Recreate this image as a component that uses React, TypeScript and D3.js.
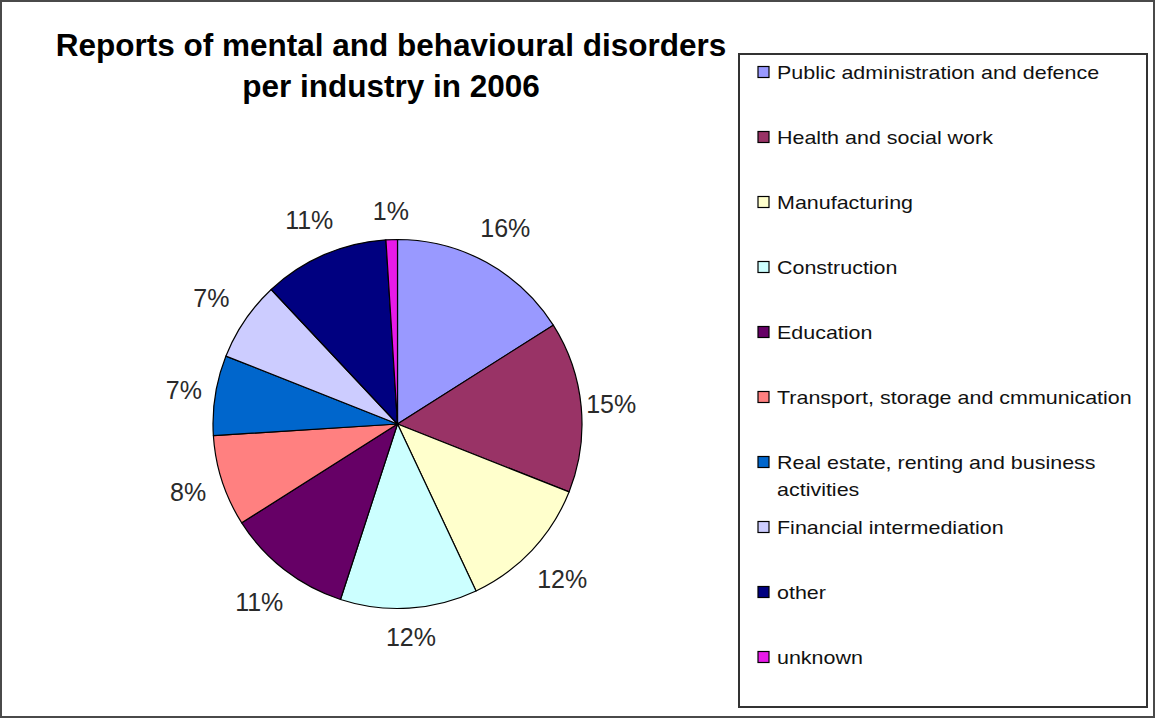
import React, { useEffect, useRef } from 'react';
import * as d3 from 'd3';

const categories = [
  'Public administration and defence',
  'Health and social work',
  'Manufacturing',
  'Construction',
  'Education',
  'Transport, storage and cmmunication',
  'Real estate, renting and business activities',
  'Financial intermediation',
  'other',
  'unknown',
];
const shares = [16, 15, 12, 12, 11, 8, 7, 7, 11, 1];
const colors = [
  '#9999ff', '#993366', '#ffffcc', '#ccffff', '#660066',
  '#ff8080', '#0066cc', '#ccccff', '#000080', '#e81ae8',
];
const titleLines = ['Reports of mental and behavioural disorders', 'per industry in 2006'];

const W = 1156;
const H = 719;
const FONT = '"Liberation Sans", Arial, sans-serif';

export default function App() {
  const svgRef = useRef<SVGSVGElement>(null);

  useEffect(() => {
    if (!svgRef.current) return;
    const svg = d3.select(svgRef.current);
    svg.selectAll('*').remove();

    // outer frame
    svg.append('rect')
      .attr('x', 1).attr('y', 1)
      .attr('width', W - 3).attr('height', H - 3)
      .attr('fill', '#fff')
      .attr('stroke', '#4a4a4a')
      .attr('stroke-width', 2);

    // title
    svg.append('g')
      .selectAll('text')
      .data(titleLines)
      .join('text')
      .attr('x', 391)
      .attr('y', (_, i) => 56 + i * 41)
      .attr('text-anchor', 'middle')
      .attr('font-family', FONT)
      .attr('font-weight', 'bold')
      .attr('font-size', 31.5)
      .attr('fill', '#000')
      .text(d => d);

    // pie
    const cx = 397.5, cy = 424, radius = 184.5;
    const data = categories.map((c, i) => ({ name: c, value: shares[i], color: colors[i] }));
    const pie = d3.pie<any>().sort(null).value(d => d.value);
    const arcs = pie(data);
    const arc = d3.arc<any>().innerRadius(0).outerRadius(radius);

    const g = svg.append('g').attr('transform', `translate(${cx},${cy})`);
    g.selectAll('path')
      .data(arcs)
      .join('path')
      .attr('d', arc)
      .attr('fill', d => d.data.color)
      .attr('stroke', '#000')
      .attr('stroke-width', 1.2)
      .attr('stroke-linejoin', 'round');

    // labels sit a bit further out on the diagonals, like Excel's boxes
    const labelPos = (d: any) => {
      const a = (d.startAngle + d.endAngle) / 2;
      const r = 212 + 14 * Math.abs(Math.sin(2 * a));
      return [r * Math.sin(a), -r * Math.cos(a)];
    };

    g.selectAll('text.pct')
      .data(arcs)
      .join('text')
      .attr('class', 'pct')
      .attr('transform', d => `translate(${labelPos(d)})`)
      .attr('text-anchor', 'middle')
      .attr('dy', '0.36em')
      .attr('font-family', FONT)
      .attr('font-size', 25)
      .attr('fill', '#2a2a2a')
      .text(d => `${d.data.value}%`);

    // legend
    const lx = 739, ly = 54, lw = 408, lh = 653;
    svg.append('rect')
      .attr('x', lx).attr('y', ly)
      .attr('width', lw).attr('height', lh)
      .attr('fill', '#fff')
      .attr('stroke', '#333')
      .attr('stroke-width', 2);

    const rowY = d3.scalePoint<string>().domain(categories).range([72, 657]);
    const sx = 1.13;
    const maxW = 318;

    const items = svg.append('g')
      .selectAll('g')
      .data(data)
      .join('g')
      .attr('transform', d => `translate(0,${rowY(d.name)})`);

    items.append('rect')
      .attr('x', 758).attr('y', -5.5)
      .attr('width', 11).attr('height', 11)
      .attr('fill', d => d.color)
      .attr('stroke', '#000')
      .attr('stroke-width', 1.2);

    items.each(function (d) {
      const t = d3.select(this).append('text')
        .attr('transform', `translate(777,7) scale(${sx},1)`)
        .attr('font-family', FONT)
        .attr('font-size', 19)
        .attr('fill', '#111');
      const words = d.name.split(' ');
      let line: string[] = [];
      let lineNo = 0;
      let tspan = t.append('tspan').attr('x', 0).attr('y', 0);
      for (const w of words) {
        line.push(w);
        tspan.text(line.join(' '));
        if ((tspan.node() as SVGTSpanElement).getComputedTextLength() > maxW && line.length > 1) {
          line.pop();
          tspan.text(line.join(' '));
          line = [w];
          lineNo += 1;
          tspan = t.append('tspan').attr('x', 0).attr('y', lineNo * 27).text(w);
        }
      }
    });
  }, []);

  return (
    <svg
      ref={svgRef}
      width={W}
      height={H}
      style={{ position: 'absolute', left: 0, top: 0, display: 'block' }}
    />
  );
}
